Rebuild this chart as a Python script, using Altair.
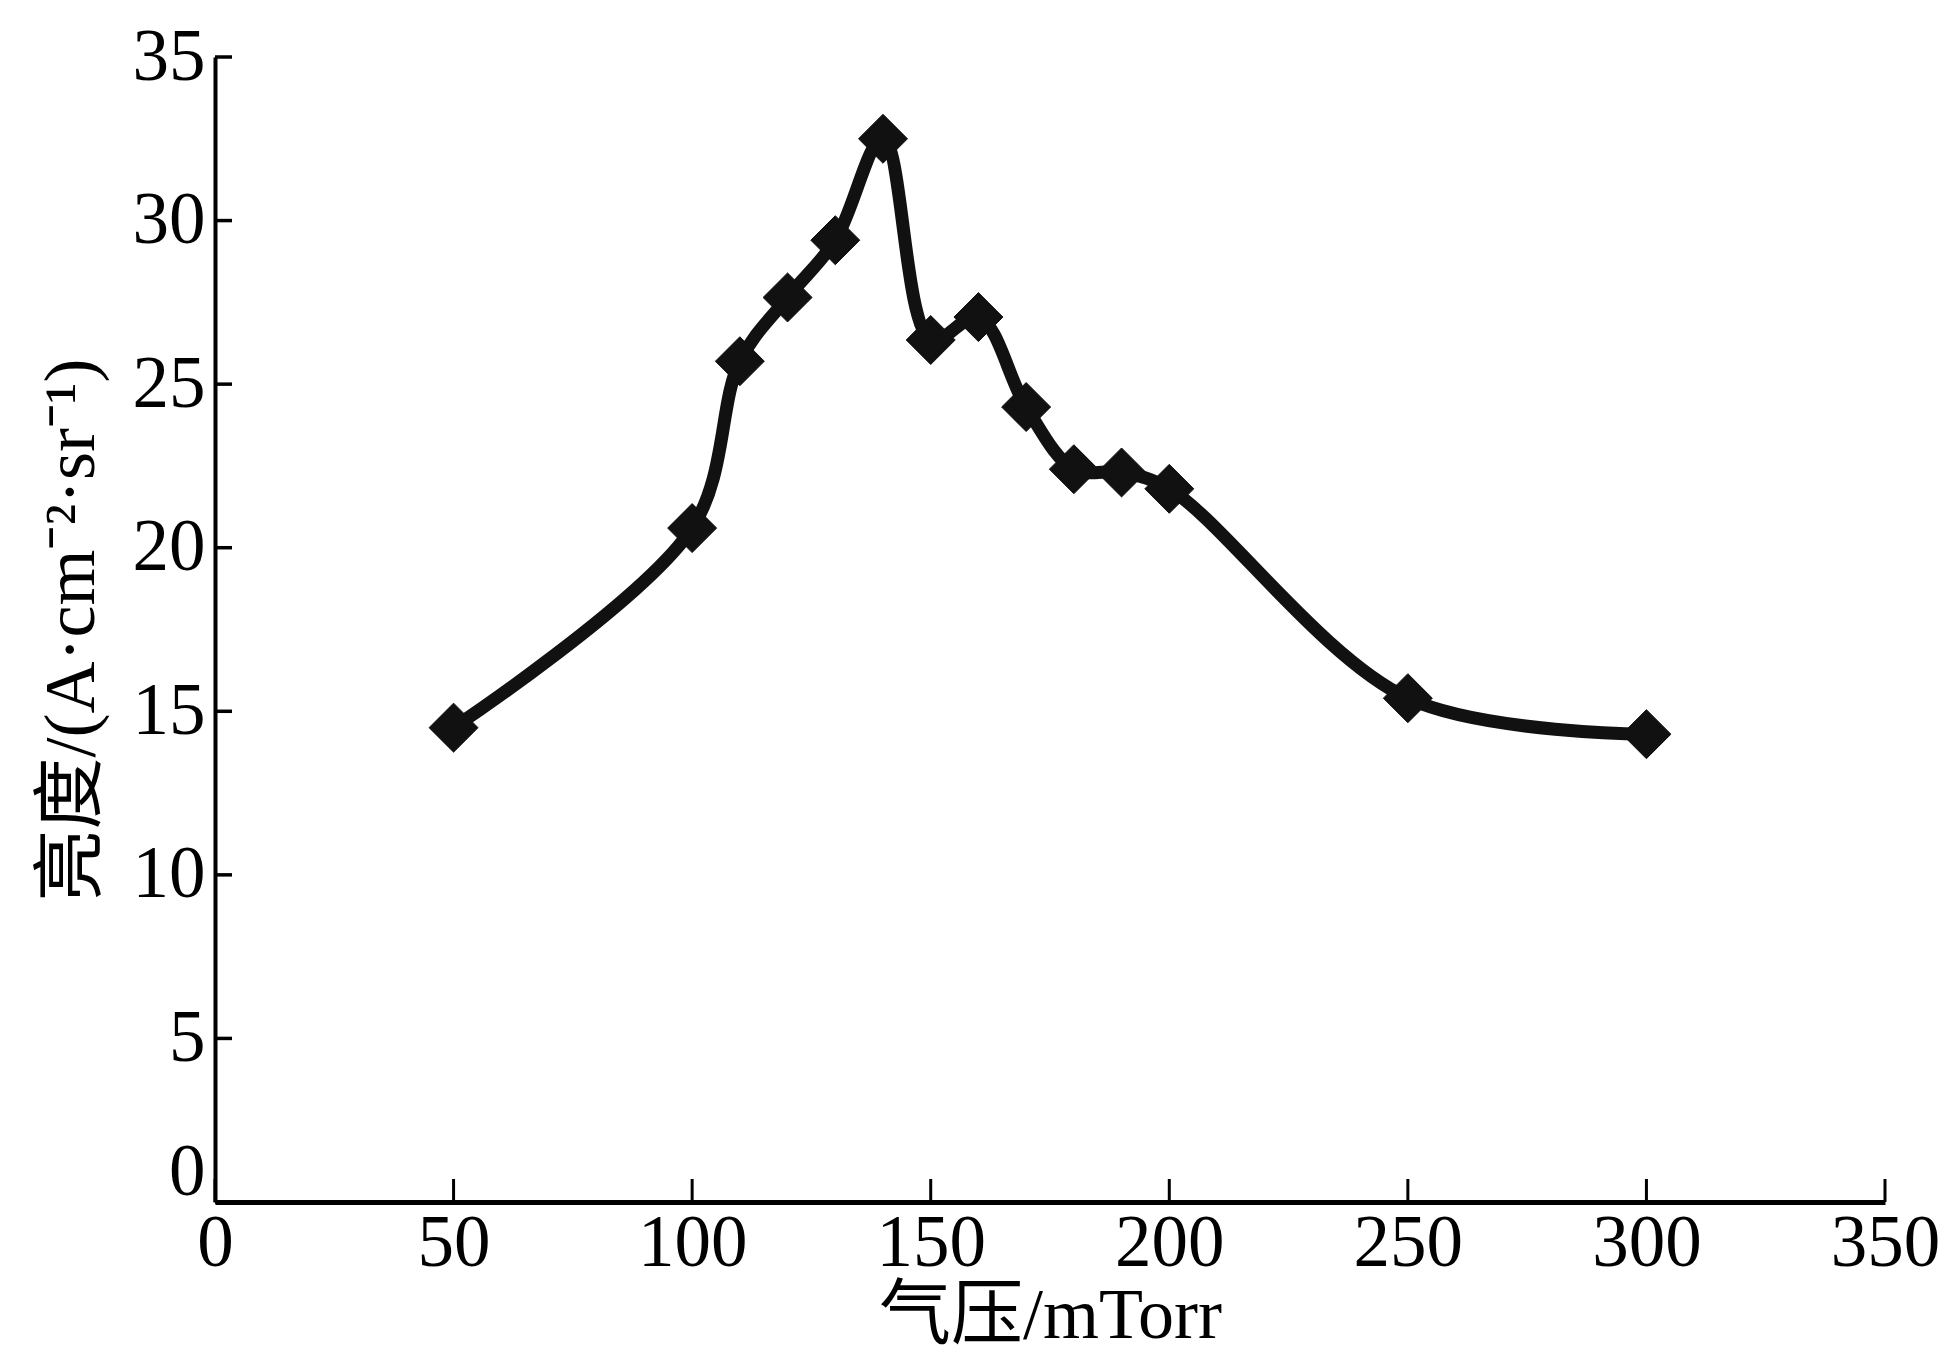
import altair as alt
import pandas as pd

# Data
pressure = [50, 100, 110, 120, 130, 140, 150, 160, 170, 180, 190, 200, 250, 300]
brightness = [14.5, 20.6, 25.7, 27.65, 29.4, 32.5, 26.35, 27.05, 24.3, 22.4, 22.3, 21.8, 15.4, 14.3]
x_ticks = [0, 50, 100, 150, 200, 250, 300, 350]
y_ticks = [0, 5, 10, 15, 20, 25, 30, 35]

W, H = 1670, 1145
FONT = "Liberation Serif, Times New Roman, Noto Sans CJK SC"

df = pd.DataFrame({"p": pressure, "b": brightness})
xt = pd.DataFrame({"p": x_ticks})
yt = pd.DataFrame({"b": y_ticks})

xs = alt.Scale(domain=[0, 350], nice=False, zero=False)
ys = alt.Scale(domain=[0, 35], nice=False, zero=False)

x_axis = alt.Axis(
    values=x_ticks, title="气压/mTorr", ticks=False, grid=False,
    domainWidth=5, domainColor="black", labelFont=FONT, labelFontSize=73,
    labelColor="black", labelPadding=5, titleFont=FONT, titleFontSize=72,
    titleFontWeight="normal", titleColor="black", titlePadding=0, format="d",
    labelFlush=False, labelOverlap=False,
)
y_axis = alt.Axis(
    values=y_ticks, title="亮度/(A·cm⁻²·sr⁻¹)", ticks=False, grid=False,
    domainWidth=4, domainColor="black", labelFont=FONT, labelFontSize=73,
    labelColor="black", labelPadding=10, titleFont=FONT, titleFontSize=72,
    titleFontWeight="normal", titleColor="black", titlePadding=24, format="d",
    labelFlush=False, labelOverlap=False,
    labelOffset={"condition": {"test": "datum.value === 0", "value": -30}, "value": 0},
)

line = alt.Chart(df).mark_line(
    color="#111111", strokeWidth=13, interpolate="catmull-rom", strokeJoin="round"
).encode(
    x=alt.X("p:Q", scale=xs, axis=x_axis),
    y=alt.Y("b:Q", scale=ys, axis=y_axis),
)

points = alt.Chart(df).mark_point(
    shape="diamond", filled=True, size=2400, fill="#111111",
    stroke="#111111", strokeWidth=1, opacity=1, fillOpacity=1
).encode(
    x=alt.X("p:Q", scale=xs, axis=x_axis),
    y=alt.Y("b:Q", scale=ys, axis=y_axis),
)

xtick_rules = alt.Chart(xt).mark_rule(color="black", strokeWidth=3).encode(
    x=alt.X("p:Q", scale=xs, axis=x_axis),
    y=alt.value(H),
    y2=alt.value(H - 23),
)

ytick_rules = alt.Chart(yt).mark_rule(color="black", strokeWidth=3.5).encode(
    y=alt.Y("b:Q", scale=ys, axis=y_axis),
    x=alt.value(0),
    x2=alt.value(17),
)

chart = alt.layer(line, points, xtick_rules, ytick_rules).properties(
    width=W, height=H,
    background="white",
    autosize=alt.AutoSizeParams(type="none"),
    padding={"left": 207, "top": 49, "right": 55, "bottom": 150},
).configure_view(stroke="transparent", strokeWidth=0)

chart.save("out.html", embed_options={"renderer": "svg", "actions": False})
